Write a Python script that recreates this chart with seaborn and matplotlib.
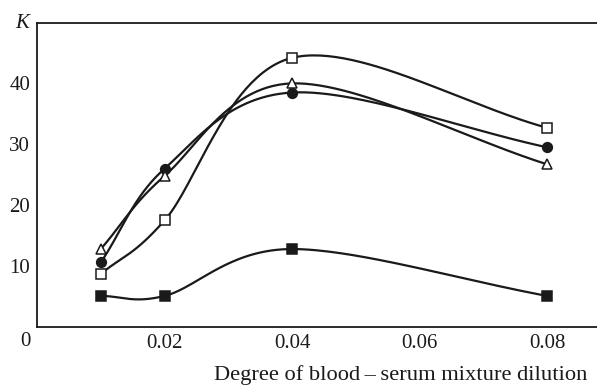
import numpy as np
import pandas as pd
import matplotlib
matplotlib.use("Agg")
import matplotlib.pyplot as plt
import seaborn as sns

# Data
dilution = [0.01, 0.02, 0.04, 0.08]
open_square = [8.7, 17.5, 44.2, 32.7]
filled_circle = [10.6, 26.0, 38.5, 29.5]
open_triangle = [12.8, 24.8, 40.0, 26.7]
filled_square = [5.1, 5.1, 12.8, 5.1]

x_ticks = [0.02, 0.04, 0.06, 0.08]
x_tick_labels = ["0.02", "0.04", "0.06", "0.08"]
y_ticks = [10, 20, 30, 40]
x_label = "Degree of blood\u2009\u2013\u2009serum mixture dilution"
y_label = "K"

sns.set_theme(style="white")
plt.rcParams['font.family'] = ['Liberation Serif', 'DejaVu Serif']

XS, YS = 6375.0, 6.1  # scale so the smoothing works in screen-like proportions


def catmull_rom(x, y, n=60):
    P = np.column_stack([np.asarray(x, float) * XS, np.asarray(y, float) * YS])
    ext = np.vstack([2 * P[0] - P[1], P, 2 * P[-1] - P[-2]])
    t = np.linspace(0, 1, n)
    h00 = 2 * t**3 - 3 * t**2 + 1
    h10 = t**3 - 2 * t**2 + t
    h01 = -2 * t**3 + 3 * t**2
    h11 = t**3 - t**2
    pts = []
    for i in range(1, len(ext) - 2):
        p0, p1 = ext[i], ext[i + 1]
        m0 = (ext[i + 1] - ext[i - 1]) / 2
        m1 = (ext[i + 2] - ext[i]) / 2
        seg = (h00[:, None] * p0 + h10[:, None] * m0 + h01[:, None] * p1 + h11[:, None] * m1)
        pts.append(seg if i == 1 else seg[1:])
    pts = np.vstack(pts)
    return pts[:, 0] / XS, pts[:, 1] / YS


fig = plt.figure(figsize=(5.97, 3.86), dpi=100)
ax = fig.add_axes([37 / 597, 59 / 386, 560 / 597, 304.5 / 386])

series = [
    ("open_square", open_square, "s", "white"),
    ("filled_circle", filled_circle, "o", "#1a1a1a"),
    ("open_triangle", open_triangle, "^", "white"),
    ("filled_square", filled_square, "s", "#1a1a1a"),
]

for name, vals, mk, fc in series:
    cx, cy = catmull_rom(dilution, vals)
    sns.lineplot(x=cx, y=cy, ax=ax, color="#1a1a1a", linewidth=1.6, sort=False, zorder=2)
    df = pd.DataFrame({"x": dilution, "y": vals})
    ax.plot(df["x"], df["y"], linestyle="none", marker=mk,
            markersize=6.8 if mk != "o" else 7.0,
            markerfacecolor=fc, markeredgecolor="#1a1a1a", markeredgewidth=1.1, zorder=3)

ax.set_xlim(0, 0.0878)
ax.set_ylim(0, 50)
ax.set_xticks(x_ticks)
ax.set_xticklabels(x_tick_labels)
ax.set_yticks(y_ticks)
ax.tick_params(axis="both", direction="in", length=6, width=1.2, color="#1a1a1a",
               labelsize=15, labelcolor="#1a1a1a", pad=5)
ax.tick_params(axis="x", pad=5)
ax.set_xlabel("")
ax.set_ylabel("")
for s in ["left", "bottom", "top"]:
    ax.spines[s].set_visible(True)
    ax.spines[s].set_color("#1a1a1a")
    ax.spines[s].set_linewidth(1.3)
ax.spines["right"].set_visible(False)

fig.text(25 / 597, 1 - 342 / 386, "0", ha="center", va="center", fontsize=15, color="#1a1a1a")
fig.text(22 / 597, 1 - 23 / 386, y_label, ha="center", va="center", fontsize=15,
         style="italic", color="#1a1a1a")
fig.text(587 / 597, 1 - 375 / 386, x_label, ha="right", va="center", fontsize=16.2, color="#1a1a1a")

fig.savefig("out.png", dpi=100)
